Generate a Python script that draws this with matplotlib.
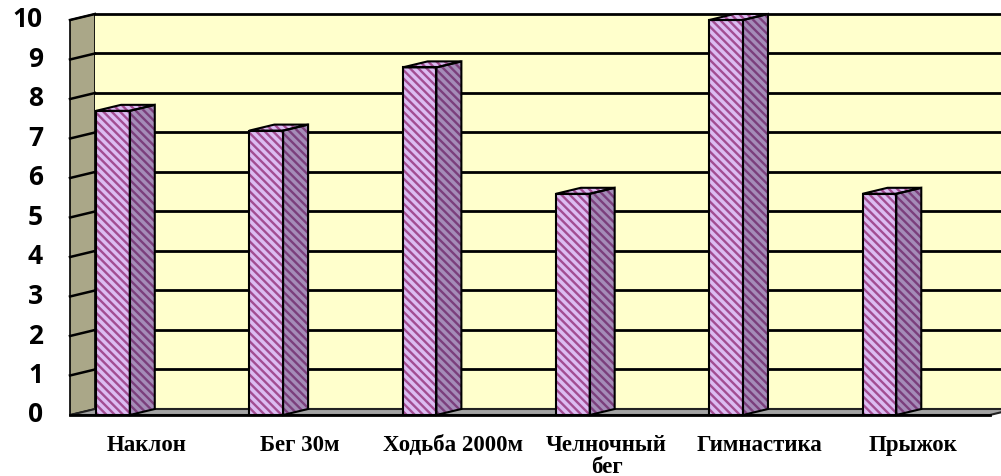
import matplotlib.pyplot as plt
from matplotlib.patches import Polygon

categories = ['Наклон', 'Бег 30м', 'Ходьба 2000м', 'Челночный\nбег', 'Гимнастика', 'Прыжок']
values = [7.7, 7.2, 8.8, 5.6, 10.0, 5.6]
yticks = list(range(0, 11))

# псевдо-3D: сдвиг задней стенки в единицах данных
dx, dy = 0.163, 0.152
bar_left, bar_right = 0.17, 0.39
ymax = 10

plt.rcParams['hatch.linewidth'] = 1.7

fig = plt.figure(figsize=(10.01, 4.76), dpi=100)
ax = fig.add_axes([0, 0, 1, 1])
ax.set_xlim(-70 / 153.3, 931 / 153.3)
ax.set_ylim(-61 / 39.5, 415 / 39.5)
ax.axis('off')

n = len(categories)

def poly(pts, **kw):
    ax.add_patch(Polygon(pts, closed=True, **kw))

# боковая стенка
poly([(0, 0), (dx, dy), (dx, ymax + dy), (0, ymax)], facecolor='#aaa788',
     edgecolor='black', lw=1.2, zorder=1)
# задняя стенка
poly([(dx, dy), (n + dx + 1, dy), (n + dx + 1, ymax + dy), (dx, ymax + dy)],
     facecolor='#ffffcc', edgecolor='none', zorder=1)
# линии сетки
for t in yticks[1:]:
    ax.plot([dx, n + dx + 1], [t + dy, t + dy], color='black', lw=2, zorder=2)
    ax.plot([0, dx], [t, t + dy], color='black', lw=1.8, zorder=2)
# пол
poly([(0, 0), (n, 0), (n + dx, dy), (dx, dy)], facecolor='#a3a3a3',
     edgecolor='#222222', lw=1.5, zorder=3)
ax.plot([0, n], [0, 0], color='black', lw=2, zorder=3)

front_fc, front_hc = '#dcbcf2', '#a24d92'
side_fc, side_hc = '#a58cb8', '#7b3f7c'

for i, v in enumerate(values):
    x0, x1 = i + bar_left, i + bar_right
    front = [(x0, 0), (x1, 0), (x1, v), (x0, v)]
    side = [(x1, 0), (x1 + dx, dy), (x1 + dx, v + dy), (x1, v)]
    top = [(x0, v), (x1, v), (x1 + dx, v + dy), (x0 + dx, v + dy)]
    for pts, fc, hc in [(front, front_fc, front_hc), (side, side_fc, side_hc),
                        (top, front_fc, front_hc)]:
        poly(pts, facecolor=fc, edgecolor=hc, lw=0, hatch='\\\\\\\\', zorder=4)
        poly(pts, facecolor='none', edgecolor='black', lw=1.5, zorder=5)

# подписи оси значений
for t in yticks:
    ax.text(-0.176, t, str(t), ha='right', va='center', fontsize=19,
            fontweight='bold', family='Open Sans')

# подписи категорий
for i, c in enumerate(categories):
    ax.text(i + 0.5, -0.5, c, ha='center', va='top', fontsize=16.5,
            fontweight='bold', family='Liberation Serif', linespacing=1.1)

fig.savefig('out.png', dpi=100)
